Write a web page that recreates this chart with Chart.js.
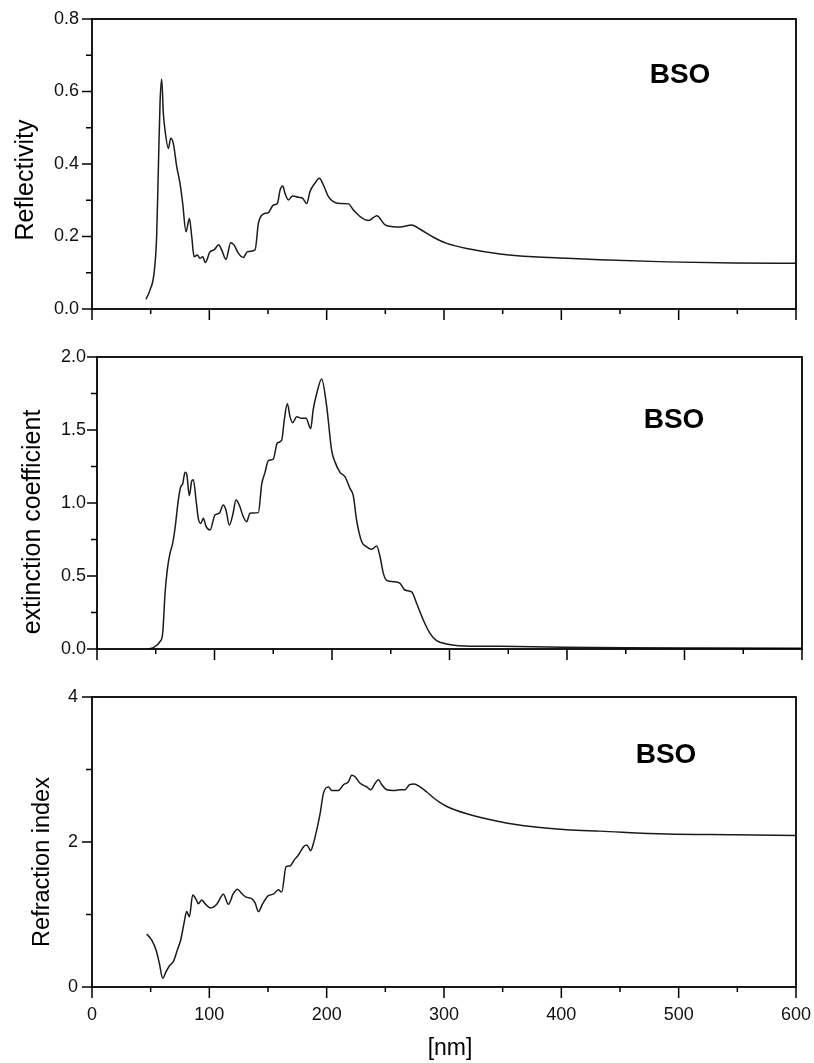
<!DOCTYPE html>
<html><head><meta charset="utf-8">
<script src="https://cdn.jsdelivr.net/npm/chart.js@4.4.1/dist/chart.umd.min.js"></script>
<style>
html,body{margin:0;padding:0;background:#fff;}
#wrap{position:relative;width:814px;height:1063px;background:#fff;}
canvas{position:absolute;left:0;top:0;}
</style></head><body>
<div id="wrap">
<canvas id="c1" width="814" height="1063"></canvas>
<canvas id="c2" width="814" height="1063"></canvas>
<canvas id="c3" width="814" height="1063"></canvas>
</div>
<script>
// ---------- data (wavelength in nm) ----------
const reflWavelength = [46,49.4,52.9,55.1,56.5,58,59.4,60.8,62.2,65.1,67.1,69.3,72.2,75,77.3,80.1,83,85,87,89.8,92,94.4,96.6,100.6,104,108,110.5,114.2,118.2,121,124.7,129,132.4,139,141.8,146,150.3,154.6,158,160.3,162.6,164.5,167.4,171,176,179.6,183,185.8,190,193.8,197.2,201.5,205.7,211.4,218.5,222.8,228.5,235.6,242.7,249.8,256.9,262.6,272.5,279.6,291,302.4,319.4,347.8,376.2,404.7,433,490,547,600];
const reflectivity = [0.027,0.052,0.099,0.20,0.38,0.57,0.634,0.54,0.494,0.443,0.471,0.457,0.393,0.347,0.291,0.213,0.250,0.200,0.144,0.149,0.140,0.144,0.128,0.158,0.163,0.177,0.163,0.137,0.183,0.177,0.154,0.142,0.158,0.163,0.236,0.262,0.266,0.287,0.291,0.328,0.339,0.319,0.301,0.312,0.308,0.305,0.291,0.324,0.347,0.361,0.342,0.310,0.296,0.291,0.290,0.273,0.255,0.244,0.257,0.232,0.227,0.226,0.232,0.220,0.198,0.181,0.167,0.152,0.144,0.140,0.136,0.130,0.127,0.126];

const extWavelength = [43,48,53.6,55.9,57.9,59.8,62.1,64.4,66.4,69.2,71.2,72.9,74.9,76.3,78.6,80.6,82,84.3,86.2,88.3,90.5,92.8,96.2,100.4,104.1,107.5,109.8,112.6,115.5,118.3,121.1,124.5,127.4,130.2,137.3,140.2,143,145.8,150,153.4,157.2,159.4,162,164.3,166.5,170,174.2,177.9,181.9,184,187,191.2,195.5,199.7,202.6,206.8,211,215.3,218.1,221,225.3,229.5,233.8,238,240.9,243.7,246.6,252.2,257.9,262,267.8,272,277.7,283.4,289,297.6,307.5,343,397,450,520,600];
const extinction = [0.0,0.01,0.05,0.108,0.38,0.54,0.655,0.724,0.827,1.02,1.11,1.13,1.21,1.20,1.05,1.15,1.16,1.02,0.895,0.86,0.895,0.84,0.815,0.918,0.93,0.986,0.95,0.849,0.918,1.02,0.986,0.906,0.872,0.93,0.934,1.13,1.21,1.29,1.30,1.41,1.43,1.57,1.68,1.59,1.55,1.59,1.58,1.58,1.51,1.64,1.75,1.85,1.66,1.36,1.28,1.21,1.18,1.10,1.05,0.88,0.735,0.70,0.683,0.705,0.632,0.518,0.47,0.461,0.45,0.404,0.392,0.313,0.199,0.107,0.057,0.034,0.023,0.018,0.012,0.008,0.006,0.005];

const refrWavelength = [46.6,50.9,54.6,57.4,60.3,63.1,66.5,69.3,72.7,75.6,78.4,80.7,83,85.8,88.7,90.6,93.5,96.3,101.2,106.3,112,116.2,120.5,123.9,127.6,131.3,136.1,139,141.8,145.5,150.3,154.6,158.8,161.7,165.4,168.8,172.2,175.9,180.7,183,186.4,188.7,191.6,194.4,197.2,201.5,204.3,210,214.3,218.5,221.4,224.2,228.5,234.2,237.6,241.3,244.1,247,251.2,256.9,262.6,266.8,270.5,274.5,279.6,285.3,291,296.1,302.4,319.4,347.8,376,404.7,433,490,547,600];
const refraction = [0.73,0.648,0.51,0.327,0.12,0.211,0.303,0.349,0.51,0.648,0.878,1.04,0.97,1.27,1.21,1.15,1.20,1.15,1.09,1.14,1.28,1.14,1.29,1.35,1.29,1.24,1.22,1.16,1.04,1.15,1.26,1.28,1.34,1.31,1.66,1.67,1.75,1.82,1.94,1.96,1.88,1.98,2.17,2.39,2.67,2.76,2.71,2.71,2.79,2.83,2.92,2.90,2.81,2.76,2.72,2.81,2.86,2.79,2.72,2.71,2.72,2.72,2.79,2.80,2.76,2.69,2.61,2.55,2.49,2.39,2.28,2.21,2.17,2.15,2.11,2.10,2.09];

// ---------- tick values ----------
const xMajorTicks = [0,100,200,300,400,500,600];
const xMinorTicks = [50,150,250,350,450,550];
const reflMajorTicks = [0,0.2,0.4,0.6,0.8];
const reflMinorTicks = [0.1,0.3,0.5,0.7];
const extMajorTicks = [0,0.5,1.0,1.5,2.0];
const extMinorTicks = [0.25,0.75,1.25,1.75];
const refrMajorTicks = [0,2,4];
const refrMinorTicks = [1,3];

const sampleLabel = 'BSO';
const xAxisTitle = '[nm]';

const FONT = '"Liberation Sans", Arial, Helvetica, sans-serif';
const INK = '#000';

const panels = [
  { id:'c1', wl:reflWavelength, vals:reflectivity, area:{left:92,right:796,top:19,bottom:309},
    yMin:0, yMax:0.8, yStep:0.2, dec:1, major:reflMajorTicks, minor:reflMinorTicks, labelPad:13,
    title:'Reflectivity', titleX:32.5, titleY:180, titleSize:25,
    bsoX:680, bsoY:83, showX:false },
  { id:'c2', wl:extWavelength, vals:extinction, area:{left:97,right:802,top:357,bottom:649},
    yMin:0, yMax:2.0, yStep:0.5, dec:1, major:extMajorTicks, minor:extMinorTicks, labelPad:11,
    title:'extinction coefficient', titleX:40, titleY:522, titleSize:25,
    bsoX:674, bsoY:428, showX:false },
  { id:'c3', wl:refrWavelength, vals:refraction, area:{left:92,right:796,top:697,bottom:987},
    yMin:0, yMax:4, yStep:2, dec:0, major:refrMajorTicks, minor:refrMinorTicks, labelPad:14,
    title:'Refraction index', titleX:49.3, titleY:862, titleSize:23.5,
    bsoX:666, bsoY:763, showX:true }
];

const H = 1063, W = 814;

panels.forEach(p => {
  const xh = p.showX ? 40 : 20;
  const decor = {
    id:'decor_'+p.id,
    afterDraw(chart){
      const {ctx, chartArea:a, scales:{x, y}} = chart;
      ctx.save();
      ctx.strokeStyle = INK; ctx.lineWidth = 1.8;
      ctx.strokeRect(a.left, a.top, a.right-a.left, a.bottom-a.top);
      ctx.lineWidth = 1.5;
      ctx.beginPath();
      xMajorTicks.forEach(v => { const px = x.getPixelForValue(v); ctx.moveTo(px, a.bottom); ctx.lineTo(px, a.bottom+11); });
      xMinorTicks.forEach(v => { const px = x.getPixelForValue(v); ctx.moveTo(px, a.bottom); ctx.lineTo(px, a.bottom+5); });
      p.major.forEach(v => { const py = y.getPixelForValue(v); ctx.moveTo(a.left-10, py); ctx.lineTo(a.left, py); });
      p.minor.forEach(v => { const py = y.getPixelForValue(v); ctx.moveTo(a.left-6, py); ctx.lineTo(a.left, py); });
      ctx.stroke();
      ctx.fillStyle = INK;
      // y-axis title
      ctx.save();
      ctx.translate(p.titleX, p.titleY);
      ctx.rotate(-Math.PI/2);
      ctx.font = p.titleSize + 'px ' + FONT;
      ctx.textAlign = 'center'; ctx.textBaseline = 'alphabetic';
      ctx.fillText(p.title, 0, 0);
      ctx.restore();
      // sample label
      ctx.font = 'bold 28px ' + FONT;
      ctx.textAlign = 'center'; ctx.textBaseline = 'alphabetic';
      ctx.fillText(sampleLabel, p.bsoX, p.bsoY);
      if (p.showX) {
        ctx.font = '23px ' + FONT;
        ctx.fillText(xAxisTitle, 450, 1055);
      }
      ctx.restore();
    }
  };
  new Chart(document.getElementById(p.id), {
    type:'line',
    data:{ datasets:[{ data:p.wl.map((w,i)=>({x:w, y:p.vals[i]})),
      borderColor:'#1a1a1a', borderWidth:1.5, pointRadius:0, fill:false,
      cubicInterpolationMode:'monotone' }] },
    options:{
      responsive:false, maintainAspectRatio:false, animation:false, events:[],
      layout:{ padding:{ left:0, top:p.area.top, right:W-p.area.right, bottom:H-p.area.bottom-xh } },
      plugins:{ legend:{display:false}, tooltip:{enabled:false}, title:{display:false} },
      scales:{
        x:{ type:'linear', min:0, max:600,
          border:{display:false},
          grid:{ display:true, drawOnChartArea:false, drawTicks:false, color:'rgba(0,0,0,0)' },
          ticks:{ display:p.showX, stepSize:100, padding:17, color:'#111', maxRotation:0,
            font:{ family:FONT, size:18 }, callback:v=>String(v) },
          afterFit(s){ s.height = xh; s.paddingLeft = 0; s.paddingRight = 0; } },
        y:{ type:'linear', min:p.yMin, max:p.yMax,
          border:{display:false},
          grid:{ display:true, drawOnChartArea:false, drawTicks:false, color:'rgba(0,0,0,0)' },
          ticks:{ stepSize:p.yStep, padding:p.labelPad, color:'#111',
            font:{ family:FONT, size:18 }, callback:v=>Number(v).toFixed(p.dec) },
          afterFit(s){ s.width = p.area.left; s.paddingTop = 0; s.paddingBottom = 0; } }
      }
    },
    plugins:[decor]
  });
});
</script>
</body></html>
